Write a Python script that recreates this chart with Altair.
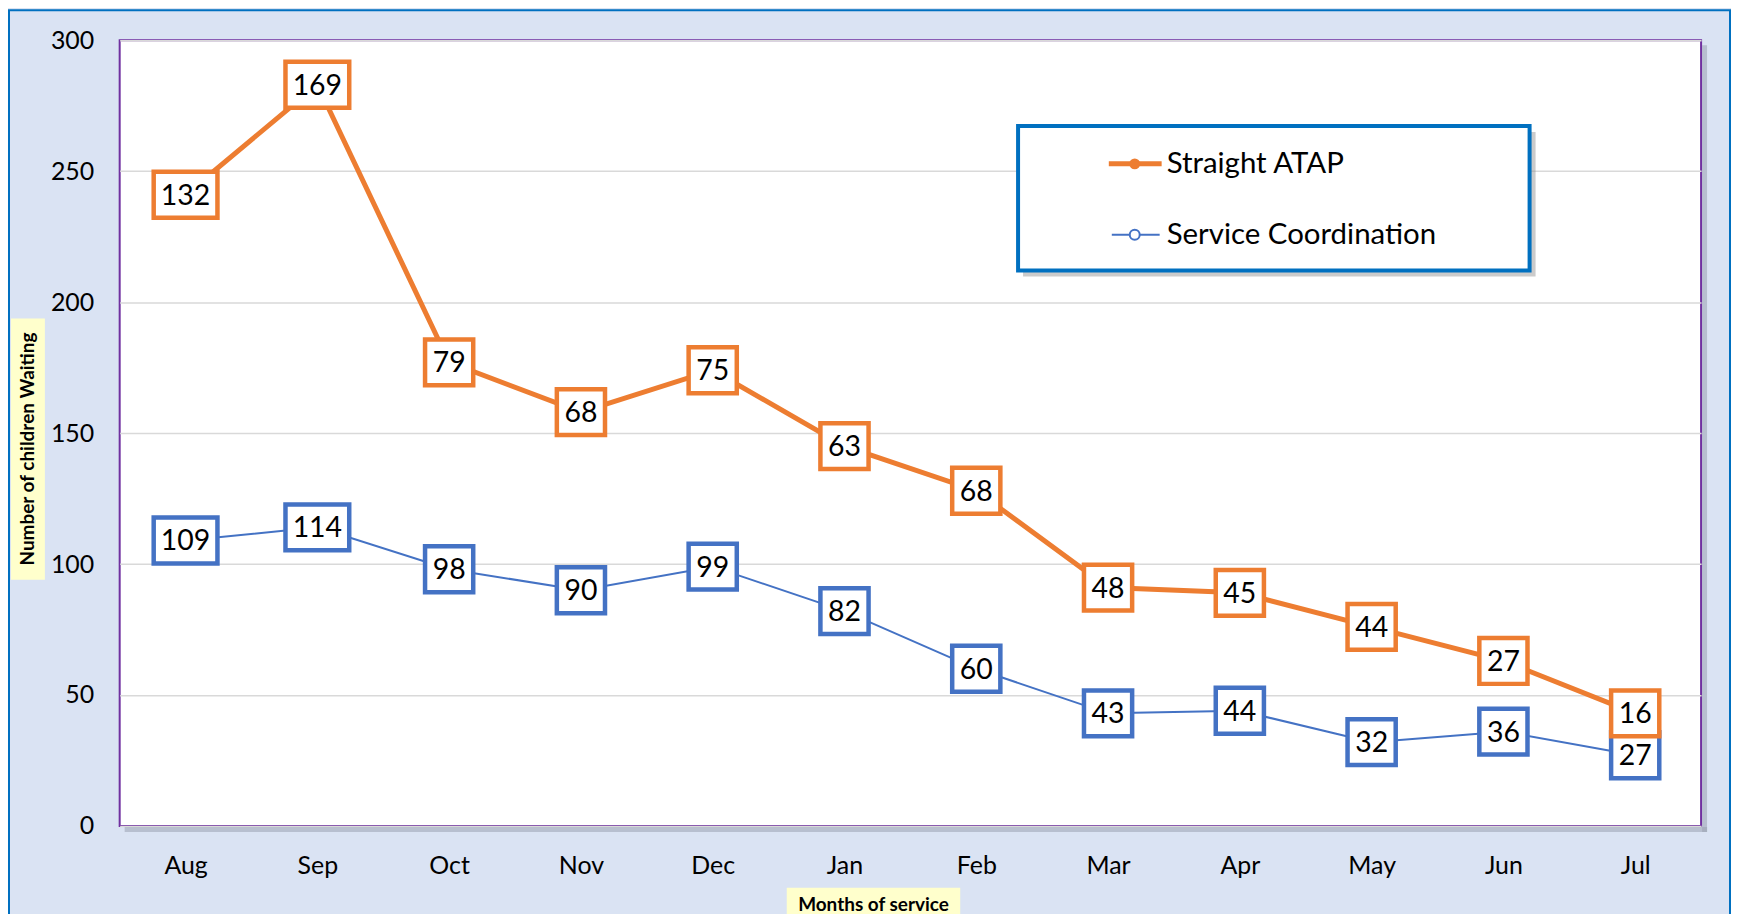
import altair as alt
import pandas as pd

# ---- data ----
months = ["Aug", "Sep", "Oct", "Nov", "Dec", "Jan", "Feb", "Mar", "Apr", "May", "Jun", "Jul"]
straight_atap = [132, 169, 79, 68, 75, 63, 68, 48, 45, 44, 27, 16]
service_coord = [109, 114, 98, 90, 99, 82, 60, 43, 44, 32, 36, 27]
series_names = ["Straight ATAP", "Service Coordination"]
y_ticks = [0, 50, 100, 150, 200, 250, 300]
y_title = "Number of children Waiting"
x_title = "Months of service"

ORANGE = "#ED7D31"
BLUE = "#4472C4"
FONT = "Lato"

W, H = 1586, 788
PAD = {"left": 112, "top": 31, "right": 30, "bottom": 87}

# stacked line chart: Straight ATAP sits on top of Service Coordination
df_sc = pd.DataFrame({"month": months, "value": service_coord, "label": service_coord})
df_sa = pd.DataFrame({
    "month": months,
    "value": [a + b for a, b in zip(straight_atap, service_coord)],
    "label": straight_atap,
})
one = pd.DataFrame({"k": [0]})

x_enc = alt.X("month:N", sort=months,
              scale=alt.Scale(type="point", padding=0.5),
              axis=alt.Axis(title=None, labelAngle=0, labelPadding=28, grid=False))
y_enc = alt.Y("value:Q", scale=alt.Scale(domain=[0, 300], nice=False),
              axis=alt.Axis(title=None, values=y_ticks, labelPadding=26))

BOX3 = "M-1.39,-1H1.39V1H-1.39Z"
BOX2 = "M-1.05,-1H1.05V1H-1.05Z"


def series_layers(df, color, width):
    base = alt.Chart(df).encode(x=x_enc, y=y_enc)
    line = base.mark_line(color=color, strokeWidth=width)
    boxes = base.mark_point(fill="white", fillOpacity=1, opacity=1, stroke=color,
                            strokeWidth=4.5, size=2116).encode(
        shape=alt.condition("datum.label >= 100", alt.value(BOX3), alt.value(BOX2)))
    text = base.mark_text(font=FONT, fontSize=28.5, color="black",
                          align="center", baseline="middle", dy=1).encode(text="label:Q")
    return line, boxes, text


sc_line, sc_box, sc_text = series_layers(df_sc, BLUE, 2)
sa_line, sa_box, sa_text = series_layers(df_sa, ORANGE, 5)

deco = alt.Chart(one)

outer_border = deco.mark_rect(fill="transparent", stroke="#0070C0", strokeWidth=2).encode(
    x=alt.value(-111), x2=alt.value(1615), y=alt.value(-30), y2=alt.value(900))

plot_shadow_r = deco.mark_rect(color="#9AA3B0", opacity=0.55).encode(
    x=alt.value(W + 1), x2=alt.value(W + 6), y=alt.value(5), y2=alt.value(H + 6))
plot_shadow_b = deco.mark_rect(color="#9AA3B0", opacity=0.55).encode(
    x=alt.value(5), x2=alt.value(W + 6), y=alt.value(H + 1), y2=alt.value(H + 6))

ytitle_box = deco.mark_rect(color="#FFFFCC").encode(
    x=alt.value(-109), x2=alt.value(-75), y=alt.value(279), y2=alt.value(541))
ytitle_txt = deco.mark_text(font=FONT, fontSize=19, fontWeight="bold", color="black",
                            angle=270, align="center", baseline="middle").encode(
    x=alt.value(-92), y=alt.value(410), text=alt.value(y_title))

xtitle_box = deco.mark_rect(color="#FFFFCC").encode(
    x=alt.value(669), x2=alt.value(843), y=alt.value(850), y2=alt.value(880))
xtitle_txt = deco.mark_text(font=FONT, fontSize=19, fontWeight="bold", color="black",
                            align="center", baseline="middle").encode(
    x=alt.value(756), y=alt.value(867), text=alt.value(x_title))

# legend
LX0, LX1, LY0, LY1 = 901, 1414, 86, 231
leg_shadow = deco.mark_rect(color="#8C8C8C", opacity=0.45).encode(
    x=alt.value(LX0 + 5), x2=alt.value(LX1 + 6), y=alt.value(LY0 + 6), y2=alt.value(LY1 + 6))
leg_box = deco.mark_rect(fill="white", stroke="#0070C0", strokeWidth=4).encode(
    x=alt.value(LX0), x2=alt.value(LX1), y=alt.value(LY0), y2=alt.value(LY1))
leg_l1 = deco.mark_rule(color=ORANGE, strokeWidth=5).encode(
    x=alt.value(992), x2=alt.value(1045), y=alt.value(124))
leg_p1 = deco.mark_circle(color=ORANGE, size=120, opacity=1).encode(
    x=alt.value(1018), y=alt.value(124))
leg_t1 = deco.mark_text(font=FONT, fontSize=29.5, color="black", align="left",
                        baseline="middle").encode(
    x=alt.value(1050), y=alt.value(124), text=alt.value(series_names[0]))
leg_l2 = deco.mark_rule(color=BLUE, strokeWidth=2).encode(
    x=alt.value(995), x2=alt.value(1043), y=alt.value(195))
leg_p2 = deco.mark_point(shape="circle", fill="white", fillOpacity=1, opacity=1,
                         stroke=BLUE, strokeWidth=2, size=100).encode(
    x=alt.value(1018), y=alt.value(195))
leg_t2 = deco.mark_text(font=FONT, fontSize=29.5, color="black", align="left",
                        baseline="middle").encode(
    x=alt.value(1050), y=alt.value(195), text=alt.value(series_names[1]))

chart = alt.layer(
    outer_border, plot_shadow_r, plot_shadow_b,
    ytitle_box, ytitle_txt, xtitle_box, xtitle_txt,
    sc_line, sa_line, sc_box, sc_text, sa_box, sa_text,
    leg_shadow, leg_box, leg_l1, leg_p1, leg_t1, leg_l2, leg_p2, leg_t2,
).properties(
    width=W, height=H,
    autosize=alt.AutoSizeParams(type="none"),
    padding=PAD,
    background="#DAE3F3",
).configure_view(
    stroke="#7030A0", strokeWidth=2, fill="white"
).configure_axis(
    labelFont=FONT, labelFontSize=25, labelColor="black",
    domain=False, ticks=False,
    gridColor="#D9D9D9", gridWidth=1.5,
)

chart.save("out.html", embed_options={"renderer": "svg", "actions": False})
